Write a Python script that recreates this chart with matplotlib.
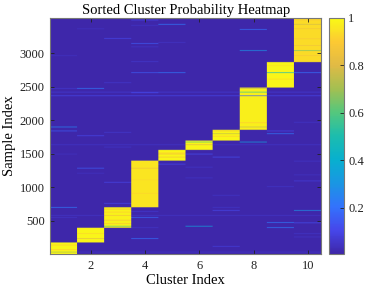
import numpy as np
import matplotlib
matplotlib.use("Agg")
import matplotlib.pyplot as plt
from matplotlib.colors import LinearSegmentedColormap

# ---------------------------------------------------------------------------
# Data
# ---------------------------------------------------------------------------

cluster_ids = list(range(1, 11))
cluster_sizes = [172, 219, 305, 694, 160, 139, 160, 629, 379, 671]
block_prob = [0.985, 0.985, 0.98, 0.955, 0.985, 0.985, 0.985, 0.975, 0.985, 0.935]
background_prob = 0.012

# off-block streaks: sample index, cluster, probability
streak_sample = [3479, 3415, 3400, 3349, 3339, 3205, 3145, 3130, 3080, 3025,
                 2950, 2860, 2696, 2696, 2696, 2546, 2461, 2461, 2397, 1957,
                 1887, 1828, 1828, 1807, 1787, 1757, 1663, 1588, 1484, 1484,
                 1439, 1379, 1334, 1289, 1274, 1199, 1174, 1129, 1084, 1064,
                 1000, 870, 750, 690, 690, 645, 645, 630, 540, 540,
                 465, 460, 410, 390, 390, 300, 250, 226, 110]
streak_cluster = [4, 5, 4, 2, 8, 3, 5, 4, 4, 8,
                  1, 4, 4, 5, 10, 3, 2, 1, 4, 10,
                  1, 1, 9, 3, 9, 2, 8, 3, 1, 6,
                  7, 10, 5, 6, 2, 2, 10, 6, 10, 3,
                  9, 7, 3, 1, 7, 10, 7, 4, 4, 1,
                  9, 10, 6, 9, 4, 10, 10, 4, 7]
streak_prob = [0.10, 0.22, 0.05, 0.04, 0.20, 0.10, 0.05, 0.15, 0.05, 0.30,
               0.04, 0.06, 0.15, 0.22, 0.20, 0.06, 0.22, 0.06, 0.10, 0.05,
               0.25, 0.15, 0.10, 0.06, 0.22, 0.10, 0.35, 0.05, 0.04, 0.12,
               0.12, 0.05, 0.10, 0.05, 0.15, 0.04, 0.04, 0.05, 0.08, 0.10,
               0.05, 0.05, 0.10, 0.22, 0.05, 0.30, 0.10, 0.06, 0.18, 0.05,
               0.22, 0.12, 0.35, 0.22, 0.05, 0.05, 0.05, 0.20, 0.08]

# rows inside a block where the own-cluster probability dips
dip_sample = [25, 60, 130, 226, 300, 410, 450, 500, 570, 620, 665,
              900, 1100, 1274, 1439, 1484, 1500, 1623, 1663,
              1750, 1787, 1828, 1887, 1950, 2352, 2406, 2461,
              2600, 2696, 2800, 2950, 3025, 3100, 3200, 3350, 3415, 3480]
dip_prob = [0.70, 0.90, 0.90, 0.80, 0.92, 0.60, 0.88, 0.86, 0.85, 0.90, 0.85,
            0.92, 0.93, 0.85, 0.85, 0.86, 0.90, 0.80, 0.60,
            0.90, 0.75, 0.85, 0.75, 0.90, 0.15, 0.55, 0.75,
            0.93, 0.45, 0.95, 0.88, 0.65, 0.86, 0.88, 0.86, 0.78, 0.88]

# rows that are a little uncertain across every other cluster
flat_sample = [25, 570, 1623, 2352, 2406]
flat_prob = [0.05, 0.05, 0.05, 0.10, 0.07]

# ---------------------------------------------------------------------------
# Build the probability matrix
# ---------------------------------------------------------------------------

STREAK_W = 10
n_clusters = len(cluster_ids)
n_samples = sum(cluster_sizes)
bounds = np.concatenate([[0], np.cumsum(cluster_sizes)])
own = np.searchsorted(bounds, np.arange(n_samples), side="right") - 1

prob = np.full((n_samples, n_clusters), background_prob)
for k in range(n_clusters):
    prob[bounds[k]:bounds[k + 1], k] = block_prob[k]

def rows(s):
    return slice(s - 1, s - 1 + STREAK_W)

for s, v in zip(flat_sample, flat_prob):
    k = own[s - 1]
    for c in range(n_clusters):
        if c != k:
            prob[rows(s), c] = v
for s, c, v in zip(streak_sample, streak_cluster, streak_prob):
    prob[rows(s), c - 1] = v
for s, v in zip(dip_sample, dip_prob):
    prob[rows(s), own[s - 1]] = v

# widen each column so the resampler keeps the cluster edges sharp
prob_img = np.repeat(prob, 24, axis=1)

# parula-like colormap
parula = LinearSegmentedColormap.from_list("parula", [
    (0.00, (0.2422, 0.1504, 0.6603)),
    (0.10, (0.2740, 0.2780, 0.9200)),
    (0.20, (0.2000, 0.4500, 0.9900)),
    (0.30, (0.1000, 0.5900, 0.8900)),
    (0.40, (0.0300, 0.6900, 0.8100)),
    (0.50, (0.1100, 0.7400, 0.6800)),
    (0.60, (0.3300, 0.7800, 0.4900)),
    (0.70, (0.6400, 0.7500, 0.3200)),
    (0.80, (0.8800, 0.7300, 0.2700)),
    (0.90, (0.9900, 0.7900, 0.2000)),
    (1.00, (0.9769, 0.9839, 0.0805)),
])

# ---------------------------------------------------------------------------
# Plot
# ---------------------------------------------------------------------------

plt.rcParams["font.family"] = ["Liberation Serif", "DejaVu Serif"]
edge = "#777777"

fig = plt.figure(figsize=(3.66, 2.93), dpi=100)
ax = fig.add_axes([50.4 / 366, 39 / 293, 271 / 366, 236.3 / 293])
im = ax.imshow(prob_img, aspect="auto", origin="lower", cmap=parula,
               vmin=0.005, vmax=1.0,
               extent=(0.5, n_clusters + 0.5, 0.5, n_samples + 0.5))

ax.set_xticks([2, 4, 6, 8, 10])
ax.set_yticks([500, 1000, 1500, 2000, 2500, 3000])
ax.tick_params(direction="in", length=3, width=0.6, color="#222222",
               top=True, right=True, labelsize=9, labelcolor="#222222", pad=4)
for sp in ax.spines.values():
    sp.set_color(edge)
    sp.set_linewidth(0.8)

ax.set_title("Sorted Cluster Probability Heatmap", fontsize=10.5, pad=3)
ax.set_xlabel("Cluster Index", fontsize=10.5, labelpad=2)
ax.set_ylabel("Sample Index", fontsize=10.5, labelpad=3)

cax = fig.add_axes([329 / 366, 39 / 293, 15 / 366, 236.3 / 293])
cb = fig.colorbar(im, cax=cax, ticks=[0.2, 0.4, 0.6, 0.8, 1.0])
cb.ax.set_yticklabels(["0.2", "0.4", "0.6", "0.8", "1"])
cb.ax.tick_params(direction="in", length=3, width=0.6, color="#222222",
                  labelsize=9, labelcolor="#222222", pad=3)
cb.outline.set_edgecolor(edge)
cb.outline.set_linewidth(0.8)

fig.savefig("out.png", dpi=100)
